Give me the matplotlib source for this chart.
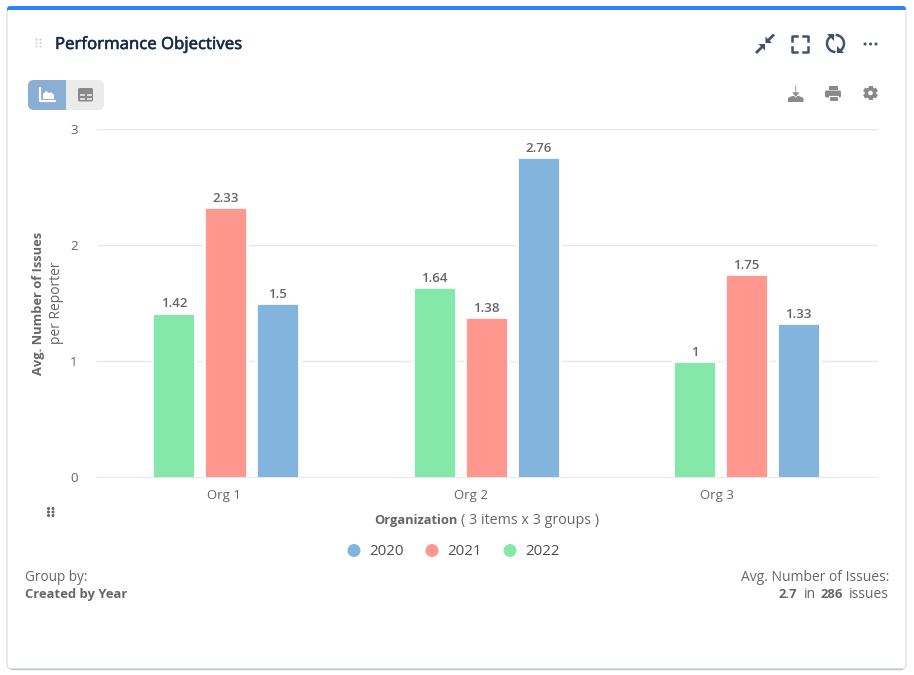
import numpy as np
import matplotlib
matplotlib.use("Agg")
import matplotlib.pyplot as plt
from matplotlib.patches import FancyBboxPatch, Rectangle, Circle, Polygon
import matplotlib.patheffects as pe

plt.rcParams["font.family"] = ["Open Sans", "DejaVu Sans"]

W, H = 914, 675

categories = ["Org 1", "Org 2", "Org 3"]
years = ["2022", "2021", "2020"]
values_2022 = [1.42, 1.64, 1]
values_2021 = [2.33, 1.38, 1.75]
values_2020 = [1.5, 2.76, 1.33]
y_ticks = [0, 1, 2, 3]

GREEN = "#84e8ab"
RED = "#ff978e"
BLUE = "#83b4de"
TEXT = "#666666"
DARK = "#42526e"
ICON = "#8a8a8a"

fig = plt.figure(figsize=(W / 100, H / 100), dpi=100, facecolor="white")

# overlay in pixel coordinates for the card around the chart
bg = fig.add_axes([0, 0, 1, 1])
bg.set_xlim(0, W)
bg.set_ylim(H, 0)
bg.axis("off")

bg.add_patch(FancyBboxPatch((7, 8), 899, 661, boxstyle="round,pad=0,rounding_size=5",
                            fc="white", ec="#d5dae1", lw=0.8))
bg.plot([11, 902], [669, 669], color="#bcc3cb", lw=1)
bg.add_patch(FancyBboxPatch((7, 6), 899, 6, boxstyle="round,pad=0,rounding_size=3",
                            fc="#2684ff", ec="none"))
bg.add_patch(Rectangle((7.5, 10), 898, 4, fc="white", ec="none"))

# plot area
left, right, top, bottom = 97, 878, 129, 477.5
ax = fig.add_axes([left / W, 1 - bottom / H, (right - left) / W, (bottom - top) / H])
ax.patch.set_alpha(0)

x = np.arange(len(categories))
pitch = 0.2
width = 0.165
series = [(values_2022, GREEN), (values_2021, RED), (values_2020, BLUE)]
for i, (vals, col) in enumerate(series):
    # white edge hides the gridline next to the bar, like the original
    bars = ax.bar(x + (i - 1) * pitch, vals, width, color=col, edgecolor="white", linewidth=2, zorder=3)
    for b, v in zip(bars, vals):
        ax.text(b.get_x() + b.get_width() / 2, v + 0.018, f"{v:g}", ha="center", va="bottom",
                fontsize=9.5, fontweight="semibold", color=TEXT, zorder=5)

ax.set_xlim(-0.495, 2.505)
ax.set_ylim(0, 3)
ax.set_xticks(x)
ax.set_xticklabels([])
ax.set_yticks(y_ticks)
ax.set_yticklabels([str(t) for t in y_ticks], fontsize=9.5, color=TEXT)
ax.tick_params(axis="both", length=0)
ax.tick_params(axis="y", pad=14)
ax.grid(axis="y", color="#e8e8e8", lw=1, zorder=0)
ax.set_axisbelow(True)
for s in ax.spines.values():
    s.set_visible(False)
ax.axhline(0, color="#e6e6e6", lw=2, zorder=4)

# everything else sits on top, in pixel coordinates
fg = fig.add_axes([0, 0, 1, 1])
fg.set_xlim(0, W)
fg.set_ylim(H, 0)
fg.axis("off")
fg.patch.set_alpha(0)

# the category labels are not centred under the bars in the original
for cx, name in zip([224, 471, 717], categories):
    fg.text(cx, 495.5, name, fontsize=9.5, color=TEXT, ha="center", va="center")

title = fg.text(55, 45, "Performance Objectives", fontsize=12, fontweight="medium", color="#172b4d",
                va="center", ha="left", family=["Noto Sans", "DejaVu Sans"])
title.set_path_effects([pe.withStroke(linewidth=0.35, foreground="#172b4d")])

# y axis titles
fg.text(38.5, 303.5, "Avg. Number of Issues", rotation=90, fontsize=9.25, fontweight="bold",
        color=TEXT, ha="center", va="center")
fg.text(56, 303, "per Reporter", rotation=90, fontsize=10, color=TEXT, ha="center", va="center")

# x axis title
fg.text(374, 520.5, "Organization", fontsize=9.3, fontweight="bold", color=TEXT, va="center")
fg.text(461, 520.5, "( 3 items x 3 groups )", fontsize=10.3, color=TEXT, va="center")

# legend
for cx, tx, label, col in [(354, 369, "2020", BLUE), (432, 447, "2021", RED), (510, 525, "2022", GREEN)]:
    fg.add_patch(Circle((cx, 550.5), 6.5, fc=col, ec="none"))
    fg.text(tx, 551.5, label, fontsize=10.8, color="#4d4d4d", va="center")

# footer notes
fg.text(25, 577.5, "Group by:", fontsize=9.8, color=TEXT, va="center")
fg.text(25, 594.5, "Created by Year", fontsize=9.35, fontweight="bold", color=TEXT, va="center")
fg.text(889, 577.5, "Avg. Number of Issues:", fontsize=10, color=TEXT, va="center", ha="right")
fg.text(779, 594.5, "2.7", fontsize=9.35, fontweight="bold", color=TEXT, va="center")
fg.text(804, 594.5, "in", fontsize=10, color=TEXT, va="center")
fg.text(821, 594.5, "286", fontsize=9.35, fontweight="bold", color=TEXT, va="center")
fg.text(889, 594.5, "issues", fontsize=10, color=TEXT, va="center", ha="right")

# chart / table toggle
fg.add_patch(FancyBboxPatch((28, 80), 76, 30, boxstyle="round,pad=0,rounding_size=6",
                            fc="#ebebeb", ec="none"))
fg.add_patch(FancyBboxPatch((28, 80), 38, 30, boxstyle="round,pad=0,rounding_size=6",
                            fc="#8aaed4", ec="none"))
fg.add_patch(Rectangle((50, 80), 16, 30, fc="#8aaed4", ec="none"))
fg.plot([40, 40, 55], [88, 101, 101], color="white", lw=1.6, solid_capstyle="round")
fg.add_patch(Polygon([(43, 99), (43, 94), (46, 91), (49, 93), (51, 92), (54, 95), (54, 99)], fc="white", ec="none"))
fg.add_patch(FancyBboxPatch((78, 88), 15, 13.5, boxstyle="round,pad=0,rounding_size=1.5", fc="#8a8a8a", ec="none"))
for bx, by in [(80, 93.5), (86.5, 93.5), (80, 97.5), (86.5, 97.5)]:
    fg.add_patch(Rectangle((bx, by), 5, 2.6, fc="#d8d8d8", ec="none"))

# drag handles
for dx in (36.5, 40.5):
    for dy in (39.5, 43, 46.5):
        fg.add_patch(Circle((dx, dy), 1.0, fc="#cfcfcf", ec="none"))
for dx in (48.5, 53):
    for dy in (508.5, 512, 515.5):
        fg.add_patch(Circle((dx, dy), 1.5, fc="#666666", ec="none"))

# top right icons
fg.plot([757, 763], [52, 46], color=DARK, lw=2)
fg.add_patch(Polygon([(765, 44), (765, 50.5), (758.5, 44)], fc=DARK, ec="none"))
fg.plot([773, 767.5], [35.5, 41], color=DARK, lw=2)
fg.add_patch(Polygon([(765.5, 43), (765.5, 36.5), (772, 43)], fc=DARK, ec="none"))
for xs, ys in [([792, 792, 797], [41, 36, 36]), ([803, 808, 808], [36, 36, 41]),
               ([792, 792, 797], [47, 52, 52]), ([803, 808, 808], [52, 52, 47])]:
    fg.plot(xs, ys, color=DARK, lw=1.8)
t = np.linspace(np.pi * 0.55, np.pi * 1.4, 20)
fg.plot(835.5 + 8.5 * np.cos(t), 43.5 + 8.5 * np.sin(t), color=DARK, lw=1.8)
fg.plot(835.5 - 8.5 * np.cos(t), 43.5 - 8.5 * np.sin(t), color=DARK, lw=1.8)
fg.add_patch(Polygon([(827, 34), (834, 34), (834, 41)], fc=DARK, ec="none"))
fg.add_patch(Polygon([(844, 53), (837, 53), (837, 46)], fc=DARK, ec="none"))
for dx in (865, 870.5, 876):
    fg.add_patch(Circle((dx, 44), 1.5, fc=DARK, ec="none"))

# download, print, settings
fg.add_patch(Polygon([(788, 102), (788, 98), (792, 96), (799, 96), (803.5, 98), (803.5, 102)], fc=ICON, ec="none"))
fg.add_patch(Polygon([(795, 85), (796.5, 85), (796.5, 92), (800, 92), (795.7, 97.5), (791.5, 92), (795, 92)],
                     fc=ICON, ec="white", lw=0.5))
fg.add_patch(Rectangle((829, 86), 9, 4, fc=ICON, ec="none"))
fg.add_patch(FancyBboxPatch((825, 90.5), 16, 7, boxstyle="round,pad=0,rounding_size=1.5", fc=ICON, ec="none"))
fg.add_patch(Rectangle((829, 96), 8.5, 5, fc=ICON, ec="white", lw=0.8))
ang = np.linspace(0, 2 * np.pi, 6, endpoint=False) + np.pi / 2
for a in ang:
    fg.plot([870.5, 870.5 + 7.4 * np.cos(a)], [93, 93 + 7.4 * np.sin(a)], color=ICON, lw=3, solid_capstyle="butt", zorder=1)
fg.add_patch(Circle((870.5, 93), 5.8, fc=ICON, ec="none", zorder=2))
fg.add_patch(Circle((870.5, 93), 2.3, fc="white", ec="none", zorder=3))

fig.savefig("out.png", dpi=100)
